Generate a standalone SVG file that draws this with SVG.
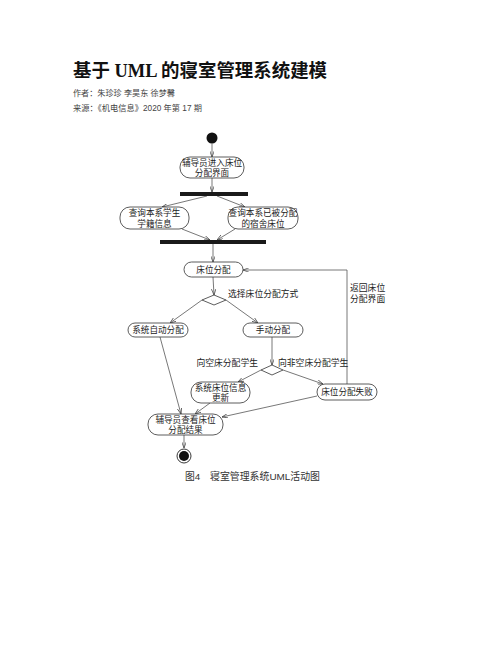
<svg xmlns="http://www.w3.org/2000/svg" width="502" height="649" viewBox="0 0 502 649">
<defs>
<style>
.node rect{fill:#fff;stroke:#333;stroke-width:0.8}
.nt{font-family:"Liberation Serif","Noto Sans CJK SC",serif;font-size:8.6px;fill:#222;text-anchor:middle}
.lbl{font-family:"Liberation Serif","Noto Sans CJK SC",serif;font-size:8.8px;fill:#222}
.edge{fill:none;stroke:#555;stroke-width:0.8;marker-end:url(#arr)}
.bar{fill:#1a1a1a}
</style>
<marker id="arr" viewBox="0 0 8 6" refX="8" refY="3" markerWidth="6" markerHeight="4.5" orient="auto" markerUnits="userSpaceOnUse">
<path d="M0,0 L8,3 L0,6" fill="none" stroke="#444" stroke-width="1"/>
</marker>
</defs>
<rect width="502" height="649" fill="#fff"/>
<g id="header">
<text x="73" y="77" font-family="Liberation Serif,'Noto Sans CJK SC',serif" font-size="18" font-weight="bold" fill="#111" textLength="254" lengthAdjust="spacingAndGlyphs">基于 UML 的寝室管理系统建模</text>
<text x="73" y="96" font-family="Liberation Sans,'Noto Sans CJK SC',sans-serif" font-size="8.5" fill="#444" textLength="102" lengthAdjust="spacingAndGlyphs">作者：朱珍珍 李昊东 徐梦馨</text>
<text x="73" y="111" font-family="Liberation Sans,'Noto Sans CJK SC',sans-serif" font-size="8.5" fill="#444" textLength="129" lengthAdjust="spacingAndGlyphs">来源：《机电信息》2020 年第 17 期</text>
</g>
<g id="connectors">
<path class="edge" d="M212,143.5 L212,157"/>
<path class="edge" d="M212,178 L212,192"/>
<path class="edge" d="M207,196 L162,207"/>
<path class="edge" d="M217,196 L245,207"/>
<path class="edge" d="M182,229 L210,240"/>
<path class="edge" d="M235,229 L217,240"/>
<path class="edge" d="M213,244 L213,262"/>
<path class="edge" d="M213,277 L214,295"/>
<path class="edge" d="M202,300 L170,323"/>
<path class="edge" d="M226,300 L258,323"/>
<path class="edge" d="M272,337 L272,365"/>
<path class="edge" d="M261,370 L238,382"/>
<path class="edge" d="M283,370 L323,384"/>
<path class="edge" d="M347,384 L347,270 L243,270"/>
<path class="edge" d="M160,337 L181,414"/>
<path class="edge" d="M210,403 L195,414"/>
<path class="edge" d="M317,396 L222,417"/>
<path class="edge" d="M184,435 L184,448"/>
</g>
<g id="labels">
<text class="lbl" x="228" y="296.5">选择床位分配方式</text>
<text class="lbl" x="350" y="291">返回床位</text>
<text class="lbl" x="350" y="302">分配界面</text>
<text class="lbl" x="258" y="366" text-anchor="end">向空床分配学生</text>
<text class="lbl" x="278" y="366">向非空床分配学生</text>
</g>
<g id="start"><circle cx="212" cy="138" r="5.5" fill="#111"/></g>
<g id="n1" class="node"><rect x="180" y="157" width="64" height="21" rx="10"/><text class="nt" x="212" y="166">辅导员进入床位</text><text class="nt" x="212" y="176">分配界面</text></g>
<g id="fork1"><rect class="bar" x="180" y="192" width="68" height="4"/></g>
<g id="n2" class="node"><rect x="120" y="207" width="69" height="22" rx="10"/><text class="nt" x="154.5" y="216">查询本系学生</text><text class="nt" x="154.5" y="226.5">学籍信息</text></g>
<g id="n3" class="node"><rect x="228" y="207" width="70" height="22" rx="10"/><text class="nt" x="263" y="216">查询本系已被分配</text><text class="nt" x="263" y="226.5">的宿舍床位</text></g>
<g id="join1"><rect class="bar" x="160" y="240" width="106" height="4"/></g>
<g id="n4" class="node"><rect x="184" y="262" width="59" height="15" rx="7.5"/><text class="nt" x="213.5" y="273">床位分配</text></g>
<g id="d1"><polygon points="214,295 226,300 214,305 202,300" fill="#fff" stroke="#333" stroke-width="0.8"/></g>
<g id="n5" class="node"><rect x="128" y="323" width="60" height="14" rx="7"/><text class="nt" x="158" y="333.2">系统自动分配</text></g>
<g id="n6" class="node"><rect x="243" y="323" width="60" height="14" rx="7"/><text class="nt" x="273" y="333.2">手动分配</text></g>
<g id="d2"><polygon points="272,365 283,370 272,375 261,370" fill="#fff" stroke="#333" stroke-width="0.8"/></g>
<g id="n7" class="node"><rect x="191" y="382" width="59" height="21" rx="10"/><text class="nt" x="220.5" y="391">系统床位信息</text><text class="nt" x="220.5" y="401">更新</text></g>
<g id="n8" class="node"><rect x="317" y="384" width="60" height="16" rx="8"/><text class="nt" x="347" y="395">床位分配失败</text></g>
<g id="n9" class="node"><rect x="148" y="414" width="75" height="21" rx="10"/><text class="nt" x="185.5" y="423">辅导员查看床位</text><text class="nt" x="185.5" y="433">分配结果</text></g>
<g id="end"><circle cx="184" cy="456" r="7" fill="#fff" stroke="#222" stroke-width="0.9"/><circle cx="184" cy="456" r="5" fill="#111"/></g>
<g id="caption">
<text x="185" y="480" font-family="Liberation Sans,'Noto Sans CJK SC',sans-serif" font-size="9.8" fill="#333">图4</text>
<text x="210" y="480" font-family="Liberation Sans,'Noto Sans CJK SC',sans-serif" font-size="9.8" fill="#333" textLength="110" lengthAdjust="spacingAndGlyphs">寝室管理系统UML活动图</text>
</g>
</svg>
